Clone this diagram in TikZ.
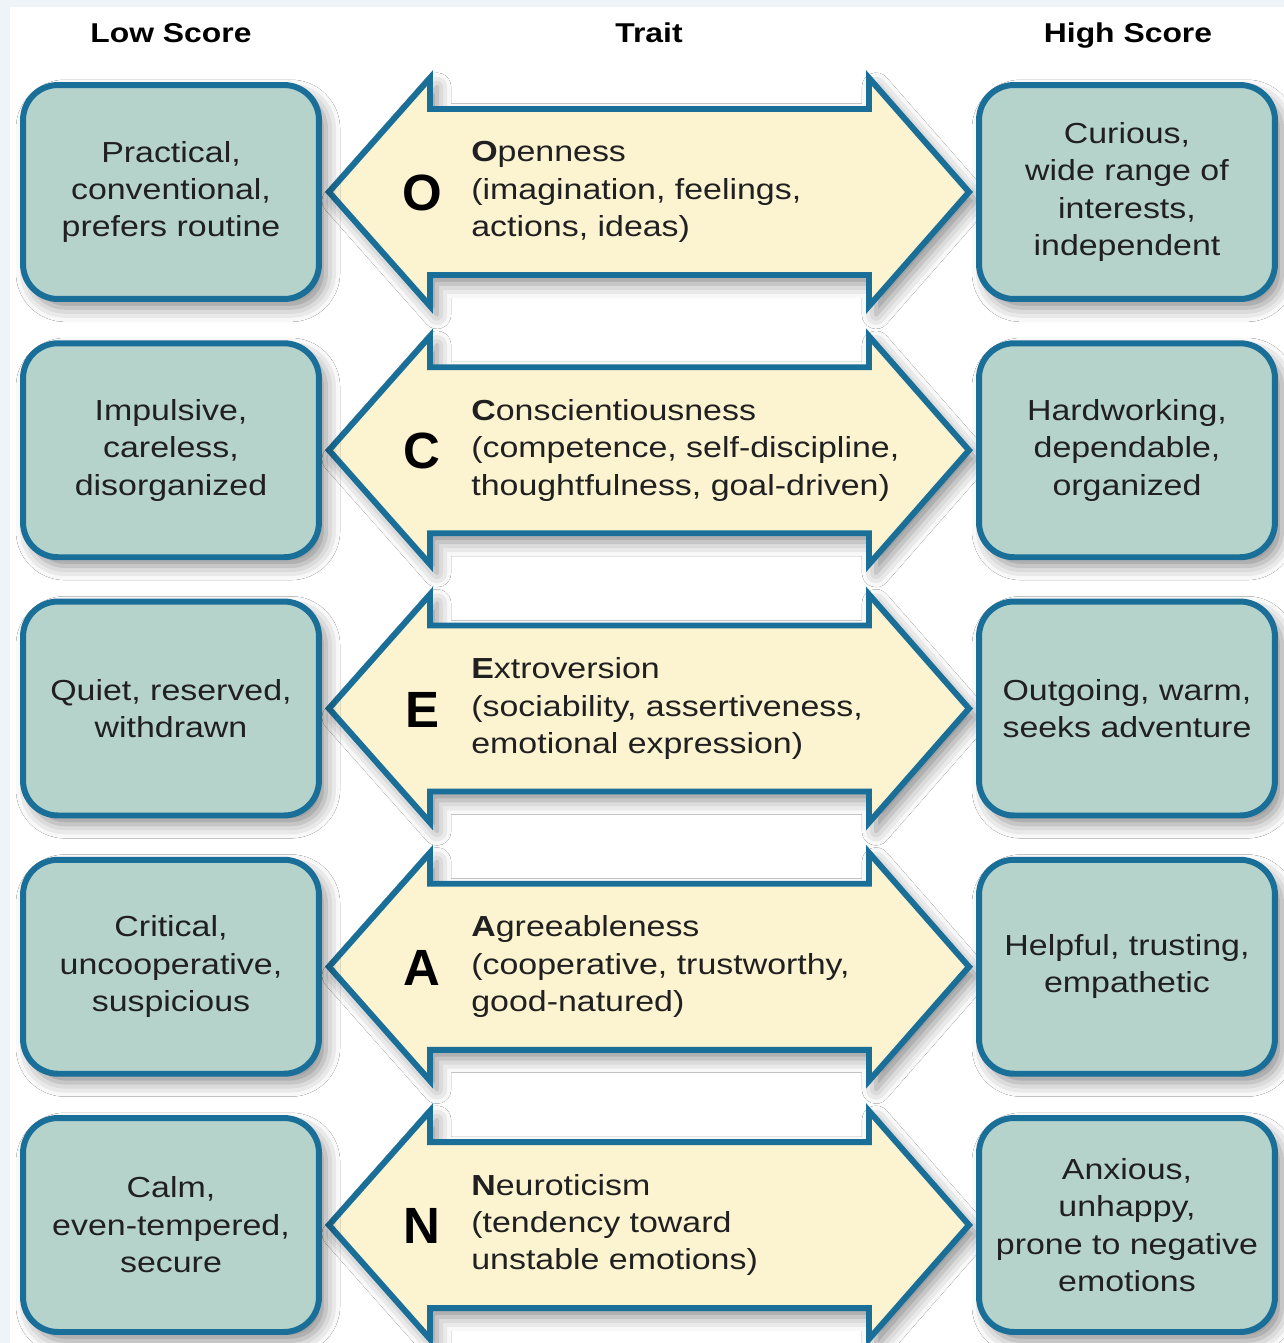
\documentclass[tikz,border=0pt]{standalone}
\usepackage{fontspec}
\setmainfont{Liberation Sans}[FakeStretch=1.17]
\newfontfamily\initfont{Liberation Sans}
\usetikzlibrary{positioning,shadows.blur}
\definecolor{boxteal}{RGB}{182,211,203}
\definecolor{edgeblue}{RGB}{26,111,153}
\definecolor{traitcream}{RGB}{252,243,209}
\definecolor{framegray}{RGB}{239,244,248}
\definecolor{inkgray}{RGB}{32,32,32}
\tikzset{
  boxshadow/.style={blur shadow={shadow xshift=4pt, shadow yshift=-5pt, shadow blur radius=8pt, shadow opacity=45}},
  scorebox/.style={draw=edgeblue, fill=boxteal, line width=3.4pt, rounded corners=0.7cm,
                   minimum width=5.92cm, minimum height=4.28cm, align=center, text=inkgray,
                   font=\fontsize{16.5}{21.3}\selectfont, boxshadow},
  traitarrow/.style={draw=edgeblue, fill=traitcream, line width=3.4pt, line join=miter, boxshadow},
  traittext/.style={anchor=west, inner sep=0pt, align=left, text=inkgray, font=\fontsize{16.5}{21.3}\selectfont},
  initletter/.style={text=black, font=\initfont\bfseries\fontsize{29}{30}\selectfont},
  colhead/.style={anchor=base, text=black, font=\bfseries\fontsize{15.5}{18}\selectfont},
}

\begin{document}
\begin{tikzpicture}[x=0.02cm, y=-0.02cm]
  \useasboundingbox (0,0) rectangle (1284,1343);
  % frame
  \fill[framegray] (0,0) rectangle (1284,1343);
  \fill[white] (10,7) rectangle (1284,1343);
  % column heads
  \node[colhead] (lowhead) at (171,42) {Low Score};
  \node[colhead] (traithead) at (649,42) {Trait};
  \node[colhead] (highhead) at (1128,42) {High Score};
  % rows
  \foreach \i/\lo/\ltr/\tname/\tdesc/\hi in {
    1/{Practical,\\conventional,\\prefers routine}/O/penness/{(imagination, feelings,\\actions, ideas)}/{Curious,\\wide range of\\interests,\\independent},
    2/{Impulsive,\\careless,\\disorganized}/C/onscientiousness/{(competence, self-discipline,\\thoughtfulness, goal-driven)}/{Hardworking,\\dependable,\\organized},
    3/{Quiet, reserved,\\withdrawn}/E/xtroversion/{(sociability, assertiveness,\\emotional expression)}/{Outgoing, warm,\\seeks adventure},
    4/{Critical,\\uncooperative,\\suspicious}/A/greeableness/{(cooperative, trustworthy,\\good-natured)}/{Helpful, trusting,\\empathetic},
    5/{Calm,\\even-tempered,\\secure}/N/euroticism/{(tendency toward\\unstable emotions)}/{Anxious,\\unhappy,\\prone to negative\\emotions}}{
    \pgfmathsetmacro\cy{192+258.25*(\i-1)}
    \draw[traitarrow] (329,\cy) -- (430,{\cy-114}) -- (430,{\cy-83}) -- (869,{\cy-83})
      -- (869,{\cy-114}) -- (969,\cy) -- (869,{\cy+114}) -- (869,{\cy+83})
      -- (430,{\cy+83}) -- (430,{\cy+114}) -- cycle;
    \node[scorebox] (low\i) at (171,\cy) {\lo};
    \node[scorebox] (high\i) at (1127,\cy) {\hi};
    \node[initletter] (letter\i) at (422,{\cy+1}) {\ltr};
    \node[traittext] (trait\i) at (471,\cy) {\textbf{\ltr}\tname\\\tdesc};
  }
\end{tikzpicture}
\end{document}
